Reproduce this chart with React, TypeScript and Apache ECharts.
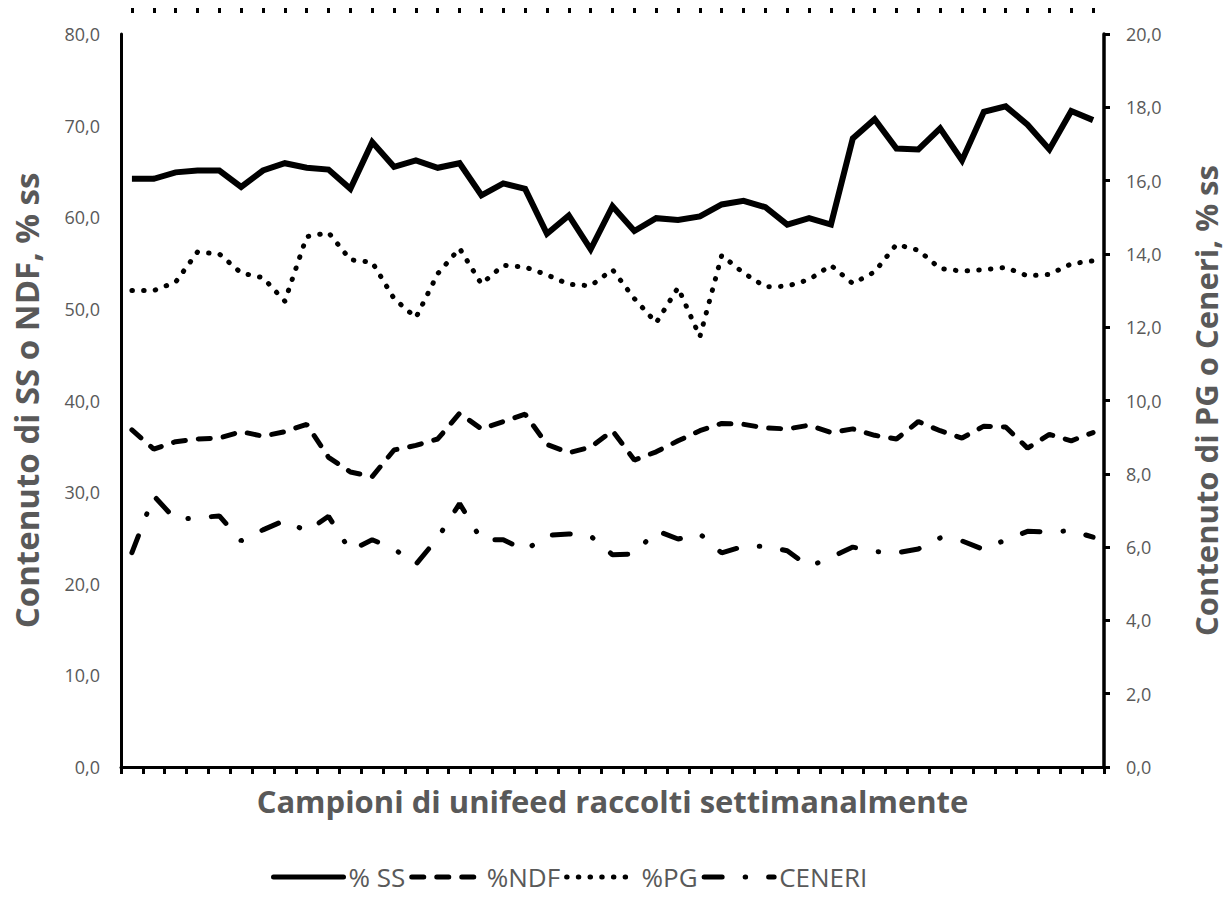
import React, { useEffect, useRef } from "react";
import * as echarts from "echarts";

const categories: string[] = Array.from({ length: 45 }, (_, i) => String(i + 1));

const ssValues: number[] = [64.2, 64.2, 64.9, 65.1, 65.1, 63.3, 65.1, 65.9, 65.4, 65.2, 63.1, 68.2, 65.5, 66.2, 65.4, 65.9, 62.4, 63.7, 63.1, 58.2, 60.2, 56.5, 61.2, 58.5, 59.9, 59.7, 60.1, 61.4, 61.8, 61.1, 59.2, 59.9, 59.2, 68.6, 70.7, 67.5, 67.4, 69.7, 66.2, 71.5, 72.1, 70.1, 67.4, 71.6, 70.6];

const ndfValues: number[] = [36.8, 34.7, 35.5, 35.8, 35.9, 36.6, 36.1, 36.6, 37.4, 33.8, 32.2, 31.7, 34.6, 35.1, 35.8, 38.6, 36.9, 37.7, 38.5, 35.2, 34.3, 34.9, 36.7, 33.5, 34.4, 35.6, 36.7, 37.5, 37.4, 37.0, 36.9, 37.3, 36.5, 36.9, 36.2, 35.8, 37.7, 36.7, 35.9, 37.2, 37.1, 34.8, 36.3, 35.6, 36.5];

const pgValues: number[] = [13.0, 13.0, 13.23, 14.05, 14.0, 13.48, 13.35, 12.71, 14.47, 14.58, 13.84, 13.77, 12.78, 12.26, 13.46, 14.15, 13.18, 13.69, 13.64, 13.43, 13.17, 13.13, 13.57, 12.78, 12.12, 13.08, 11.74, 13.96, 13.48, 13.1, 13.12, 13.3, 13.69, 13.19, 13.51, 14.26, 14.1, 13.6, 13.53, 13.57, 13.63, 13.4, 13.44, 13.73, 13.81];

const ceneriValues: number[] = [5.85, 7.4, 6.75, 6.8, 6.85, 6.17, 6.47, 6.73, 6.43, 6.84, 5.9, 6.2, 5.95, 5.53, 6.25, 7.19, 6.2, 6.2, 5.91, 6.32, 6.36, 6.3, 5.79, 5.81, 6.45, 6.22, 6.36, 5.84, 6.02, 6.02, 5.9, 5.47, 5.72, 6.0, 5.88, 5.84, 5.95, 6.25, 6.17, 5.93, 6.2, 6.43, 6.41, 6.45, 6.27];

const seriesNames: string[] = ["% SS", "%NDF", "%PG", "CENERI"];

const FONT = "'Open Sans', 'Noto Sans', sans-serif";
const GRAY = "#595959";

const fmt = (v: number) => v.toFixed(1).replace(".", ",");

export default function App() {
  const ref = useRef<HTMLDivElement>(null);

  useEffect(() => {
    if (!ref.current) return;
    const chart = echarts.init(ref.current, undefined, { renderer: "svg" });
    chart.setOption({
      animation: false,
      backgroundColor: "#ffffff",
      textStyle: { fontFamily: FONT },
      grid: { left: 121, right: 122, top: 34, bottom: 130, containLabel: false, outerBoundsMode: "none" },
      legend: {
        data: seriesNames,
        bottom: 2,
        left: 266,
        itemWidth: 70,
        itemHeight: 14,
        itemGap: 4,
        textStyle: { color: GRAY, fontSize: 26, fontFamily: FONT },
        lineStyle: { width: 5, cap: "round" },
        itemStyle: { opacity: 0 },
      },
      xAxis: [
        {
          type: "category",
          data: categories,
          boundaryGap: true,
          name: "Campioni di unifeed raccolti settimanalmente",
          nameLocation: "middle",
          nameGap: 18,
          nameTextStyle: { color: GRAY, fontSize: 31, fontWeight: "bold", fontFamily: FONT },
          axisLine: { show: true, onZero: false, lineStyle: { color: "#000", width: 3 } },
          axisTick: { show: true, interval: 0, length: 7, lineStyle: { color: "#000", width: 3 } },
          axisLabel: { show: false },
          splitLine: { show: false },
        },
        {
          type: "category",
          data: categories,
          position: "top",
          offset: 21,
          boundaryGap: true,
          axisLine: { show: false, onZero: false },
          axisTick: { show: true, inside: false, interval: 0, alignWithLabel: true, length: 5, lineStyle: { color: "#000", width: 3 } },
          axisLabel: { show: false },
          splitLine: { show: false },
        },
      ],
      yAxis: [
        {
          type: "value",
          min: 0,
          max: 80,
          interval: 10,
          position: "left",
          name: "Contenuto di SS o NDF, % ss",
          nameLocation: "middle",
          nameGap: 78,
          nameTextStyle: { color: GRAY, fontSize: 33, fontWeight: "bold", fontFamily: FONT },
          axisLine: { show: true, lineStyle: { color: "#000", width: 3 } },
          axisTick: { show: false },
          splitLine: { show: false },
          axisLabel: { color: GRAY, fontSize: 18, margin: 21, formatter: fmt, fontFamily: FONT },
        },
        {
          type: "value",
          min: 0,
          max: 20,
          interval: 2,
          position: "right",
          name: "Contenuto di PG o Ceneri, % ss",
          nameLocation: "middle",
          nameGap: 86,
          nameRotate: 90,
          nameTextStyle: { color: GRAY, fontSize: 31, fontWeight: "bold", fontFamily: FONT },
          axisLine: { show: true, lineStyle: { color: "#000", width: 3.5 } },
          axisTick: { show: true, length: 6, lineStyle: { color: "#000", width: 3 } },
          splitLine: { show: false },
          axisLabel: { color: GRAY, fontSize: 18, margin: 22, formatter: fmt, fontFamily: FONT },
        },
      ],
      series: [
        {
          name: seriesNames[0],
          type: "line",
          data: ssValues,
          xAxisIndex: 0,
          yAxisIndex: 0,
          symbol: "none",
          lineStyle: { color: "#000", width: 6, type: "solid", join: "miter" },
          itemStyle: { color: "#000" },
        },
        {
          name: seriesNames[1],
          type: "line",
          data: ndfValues,
          xAxisIndex: 0,
          yAxisIndex: 0,
          symbol: "none",
          lineStyle: { color: "#000", width: 5, type: [12, 13], cap: "round" },
          itemStyle: { color: "#000" },
        },
        {
          name: seriesNames[2],
          type: "line",
          data: pgValues,
          xAxisIndex: 1,
          yAxisIndex: 1,
          symbol: "none",
          lineStyle: { color: "#000", width: 5, type: [0.5, 11.2], cap: "round" },
          itemStyle: { color: "#000" },
        },
        {
          name: seriesNames[3],
          type: "line",
          data: ceneriValues,
          xAxisIndex: 0,
          yAxisIndex: 1,
          symbol: "none",
          lineStyle: { color: "#000", width: 5, type: [18, 23, 0.5, 23], cap: "round" },
          itemStyle: { color: "#000" },
        },
      ],
    });
    return () => chart.dispose();
  }, []);

  return <div ref={ref} style={{ width: 1226, height: 897, position: "absolute", left: 0, top: 0 }} />;
}
